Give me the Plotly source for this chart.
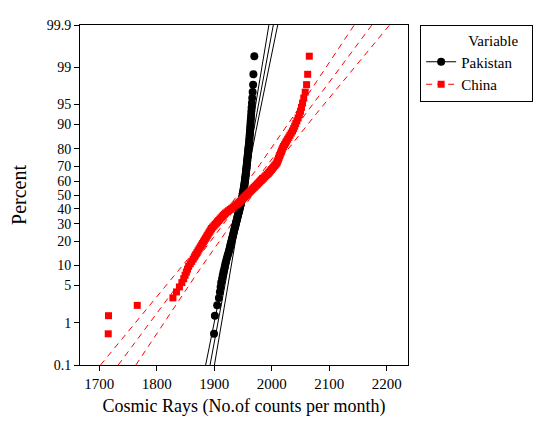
import plotly.graph_objects as go
from statistics import NormalDist
import math

# ---------------- data ----------------
# Sorted monthly cosmic-ray counts, one value per month (n = 120 each)
pakistan_counts = [
    1899.5, 1901.0, 1905.0, 1908.0, 1909.7, 1911.0, 1912.0, 1913.5, 1914.7, 1915.9,
    1917.2, 1918.3, 1919.3, 1920.3, 1921.5, 1922.6, 1923.6, 1924.7, 1925.6, 1926.5,
    1927.3, 1928.0, 1928.8, 1929.5, 1930.2, 1930.9, 1931.6, 1932.3, 1932.9, 1933.6,
    1934.2, 1934.8, 1935.4, 1936.0, 1936.6, 1937.2, 1937.7, 1938.3, 1938.9, 1939.4,
    1940.0, 1940.5, 1941.0, 1941.6, 1942.1, 1942.7, 1943.2, 1943.7, 1944.2, 1944.7,
    1945.1, 1945.6, 1946.0, 1946.5, 1947.0, 1947.4, 1947.9, 1948.4, 1948.8, 1949.3,
    1949.6, 1950.0, 1950.3, 1950.6, 1950.9, 1951.2, 1951.5, 1951.9, 1952.2, 1952.5,
    1952.8, 1953.0, 1953.3, 1953.6, 1953.8, 1954.1, 1954.4, 1954.7, 1954.9, 1955.2,
    1955.4, 1955.6, 1955.9, 1956.1, 1956.4, 1956.6, 1956.8, 1957.1, 1957.3, 1957.6,
    1957.9, 1958.1, 1958.4, 1958.7, 1958.9, 1959.2, 1959.5, 1959.8, 1960.2, 1960.5,
    1960.8, 1961.1, 1961.3, 1961.6, 1961.8, 1962.1, 1962.4, 1962.7, 1963.0, 1963.3,
    1963.7, 1964.1, 1964.5, 1964.9, 1965.4, 1966.0, 1966.7, 1967.5, 1968.0, 1969.6,
]

china_counts = [
    1715.5, 1716.0, 1766.0, 1828.0, 1834.2, 1839.3, 1843.6, 1846.8, 1849.2, 1851.4,
    1853.4, 1855.4, 1858.1, 1860.8, 1863.3, 1865.7, 1867.7, 1869.7, 1871.7, 1873.7,
    1875.6, 1877.5, 1879.3, 1881.1, 1882.8, 1884.5, 1886.1, 1887.7, 1889.3, 1890.9,
    1892.4, 1893.9, 1895.3, 1897.4, 1899.5, 1901.5, 1903.6, 1905.6, 1907.6, 1909.6,
    1911.6, 1913.6, 1915.5, 1917.5, 1919.6, 1922.4, 1925.0, 1927.8, 1930.5, 1933.1,
    1935.7, 1938.3, 1941.0, 1943.1, 1945.1, 1947.1, 1949.1, 1951.1, 1953.1, 1955.1,
    1957.0, 1959.0, 1961.0, 1963.0, 1965.1, 1967.1, 1969.1, 1971.1, 1973.1, 1975.2,
    1977.2, 1979.2, 1981.4, 1983.5, 1985.5, 1987.6, 1989.7, 1992.0, 1994.1, 1995.9,
    1997.8, 1999.6, 2001.4, 2003.3, 2005.2, 2007.1, 2008.8, 2009.7, 2010.7, 2011.7,
    2012.6, 2013.7, 2014.7, 2015.7, 2016.8, 2017.9, 2019.0, 2020.3, 2022.1, 2023.9,
    2025.7, 2027.6, 2029.6, 2031.6, 2033.8, 2036.0, 2038.0, 2039.8, 2041.6, 2043.6,
    2045.8, 2048.0, 2049.9, 2051.6, 2053.5, 2055.6, 2058.1, 2060.5, 2062.4, 2065.2,
]

# Fitted normal parameters (as drawn by the fitted lines)
pakistan_mean, pakistan_sd = 1947.6, 17.8
china_mean, china_sd = 1953.5, 71.4

percent_ticks = [0.1, 1, 5, 10, 20, 30, 40, 50, 60, 70, 80, 90, 95, 99, 99.9]
percent_labels = ["0.1", "1", "5", "10", "20", "30", "40", "50", "60", "70",
                  "80", "90", "95", "99", "99.9"]
x_ticks = [1700, 1800, 1900, 2000, 2100, 2200]

# ---------------- probability-scale helpers ----------------
nd = NormalDist()


def pct_to_z(p):
    return nd.inv_cdf(p / 100.0)


def plotting_positions(values):
    # Minitab median-rank plotting positions for sorted data
    n = len(values)
    return [100.0 * (i + 1 - 0.3) / (n + 0.4) for i in range(n)]


z_lo, z_hi = pct_to_z(0.1), pct_to_z(99.9)
z_grid = [z_lo + (z_hi - z_lo) * k / 100 for k in range(101)]


def fit_lines(mu, sd, n):
    centre, lower, upper = [], [], []
    for z in z_grid:
        xp = mu + z * sd
        half = 1.96 * sd * math.sqrt((1 + z * z / 2) / n)
        centre.append(xp)
        lower.append(xp - half)
        upper.append(xp + half)
    return centre, lower, upper


FONT = "Liberation Serif"
BLACK = "#000000"
RED = "#ff0000"

fig = go.Figure()

series = [
    ("Pakistan", pakistan_counts, pakistan_mean, pakistan_sd, BLACK, "circle", 8, "solid"),
    ("China", china_counts, china_mean, china_sd, RED, "square", 7, "6px,5px"),
]

for name, vals, mu, sd, col, sym, msize, dash in series:
    c, lo, hi = fit_lines(mu, sd, len(vals))
    for xs in (lo, c, hi):
        fig.add_trace(go.Scatter(
            x=xs, y=z_grid, mode="lines",
            line=dict(color=col, width=1, dash=dash),
            showlegend=False, hoverinfo="skip"))

for name, vals, mu, sd, col, sym, msize, dash in series:
    pcts = plotting_positions(vals)
    fig.add_trace(go.Scatter(
        x=vals, y=[pct_to_z(p) for p in pcts], mode="markers",
        marker=dict(color=col, symbol=sym, size=msize, line=dict(width=0)),
        showlegend=False, name=name))
    # legend entry (line + marker)
    fig.add_trace(go.Scatter(
        x=[None], y=[None], mode="lines+markers", name=name,
        line=dict(color=col, width=1.2, dash=dash),
        marker=dict(color=col, symbol=sym, size=msize)))

fig.update_layout(
    width=551, height=440,
    margin=dict(l=80, r=143, t=25, b=75, autoexpand=False),
    paper_bgcolor="white", plot_bgcolor="white",
    font=dict(family=FONT, size=15, color=BLACK),
    showlegend=True,
    legend=dict(
        x=1.037, y=1.0, xanchor="left", yanchor="top",
        bordercolor=BLACK, borderwidth=1, bgcolor="white",
        font=dict(family=FONT, size=15, color=BLACK),
        title=dict(text="&nbsp;&nbsp;&nbsp;&nbsp;&nbsp;&nbsp;&nbsp;&nbsp;&nbsp;&nbsp;&nbsp;&nbsp;Variable&nbsp;&nbsp;&nbsp;",
                   side="top", font=dict(family=FONT, size=15)),
        tracegroupgap=0,
    ),
    xaxis=dict(
        range=[1666.4, 2236.9], tickvals=x_ticks,
        ticktext=[str(t) for t in x_ticks],
        showgrid=False, zeroline=False,
        showline=True, linecolor=BLACK, linewidth=1, mirror=True,
        ticks="outside", ticklen=5, tickcolor=BLACK,
        tickfont=dict(family=FONT, size=15),
        title=dict(text="Cosmic Rays (No.of counts per month)",
                   font=dict(family=FONT, size=18), standoff=8),
    ),
    yaxis=dict(
        range=[z_lo, z_hi], tickvals=[pct_to_z(p) for p in percent_ticks],
        ticktext=percent_labels,
        showgrid=False, zeroline=False,
        showline=True, linecolor=BLACK, linewidth=1, mirror=True,
        ticks="outside", ticklen=5, tickcolor=BLACK,
        tickfont=dict(family=FONT, size=14),
        title=dict(text="Percent", font=dict(family=FONT, size=20), standoff=14),
    ),
)

fig.write_html(
    "out.html",
    config={"displayModeBar": False},
    post_script="document.body.style.margin='0';document.body.style.overflow='hidden';",
)
